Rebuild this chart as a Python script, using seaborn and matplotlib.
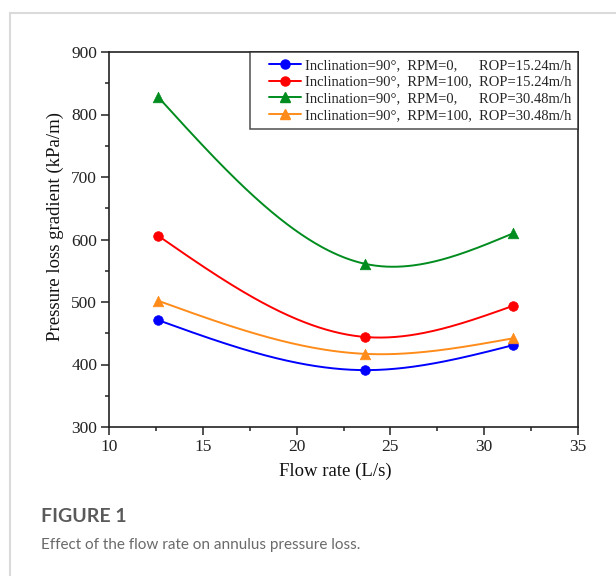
import numpy as np
import pandas as pd
import matplotlib
matplotlib.use("Agg")
import matplotlib.pyplot as plt
from matplotlib.lines import Line2D
from matplotlib.patches import Rectangle
from matplotlib.ticker import MultipleLocator
from matplotlib.legend_handler import HandlerLine2D
import seaborn as sns

# Measured data
flow_rate = [12.62, 23.66, 31.55]  # L/s
blue_vals = [471, 391, 431]
red_vals = [606, 444, 494]
green_vals = [828, 561, 610]
orange_vals = [502, 417, 442]

series_labels = [
    "Inclination=90°,  RPM=0,      ROP=15.24m/h",
    "Inclination=90°,  RPM=100,  ROP=15.24m/h",
    "Inclination=90°,  RPM=0,      ROP=30.48m/h",
    "Inclination=90°,  RPM=100,  ROP=30.48m/h",
]
series_values = [blue_vals, red_vals, green_vals, orange_vals]
series_colors = ["#0000ff", "#ff0000", "#008c1e", "#ff8c1a"]
series_markers = ["o", "o", "^", "^"]

x_ticks = [10, 15, 20, 25, 30, 35]
y_ticks = [300, 400, 500, 600, 700, 800, 900]


def natural_spline(x, y, n=200):
    """Natural cubic spline through the given points."""
    x = np.asarray(x, float)
    y = np.asarray(y, float)
    k = len(x)
    h = np.diff(x)
    A = np.zeros((k, k))
    b = np.zeros(k)
    A[0, 0] = A[-1, -1] = 1.0
    for i in range(1, k - 1):
        A[i, i - 1] = h[i - 1]
        A[i, i] = 2 * (h[i - 1] + h[i])
        A[i, i + 1] = h[i]
        b[i] = 6 * ((y[i + 1] - y[i]) / h[i] - (y[i] - y[i - 1]) / h[i - 1])
    M = np.linalg.solve(A, b)
    xs = np.linspace(x[0], x[-1], n)
    idx = np.clip(np.searchsorted(x, xs) - 1, 0, k - 2)
    x0, x1 = x[idx], x[idx + 1]
    hh = x1 - x0
    ys = (M[idx] * (x1 - xs) ** 3 / (6 * hh)
          + M[idx + 1] * (xs - x0) ** 3 / (6 * hh)
          + (y[idx] / hh - M[idx] * hh / 6) * (x1 - xs)
          + (y[idx + 1] / hh - M[idx + 1] * hh / 6) * (xs - x0))
    return xs, ys


curve_frames = []
point_frames = []
for lab, vals in zip(series_labels, series_values):
    xs, ys = natural_spline(flow_rate, vals)
    curve_frames.append(pd.DataFrame({"flow": xs, "dp": ys, "series": lab}))
    point_frames.append(pd.DataFrame({"flow": flow_rate, "dp": vals, "series": lab}))
curves = pd.concat(curve_frames, ignore_index=True)
points = pd.concat(point_frames, ignore_index=True)

sns.set_theme(style="ticks")
plt.rcParams["font.family"] = ["Liberation Serif", "DejaVu Serif"]

fig = plt.figure(figsize=(6.16, 5.76), dpi=100)
fig.patch.set_facecolor("white")
ax = fig.add_axes([109 / 616, 1 - 427 / 576, 469 / 616, 375 / 576])

palette = dict(zip(series_labels, series_colors))
sns.lineplot(data=curves, x="flow", y="dp", hue="series", palette=palette,
             sort=False, estimator=None, linewidth=1.4, legend=False, ax=ax)
for lab, col, mk in zip(series_labels, series_colors, series_markers):
    sub = points[points["series"] == lab]
    sns.scatterplot(data=sub, x="flow", y="dp", color=col, marker=mk,
                    s=48 if mk == "o" else 58, edgecolor=col, linewidth=0.5,
                    legend=False, ax=ax, zorder=3)

ax.set_xlim(10, 35)
ax.set_ylim(300, 900)
ax.set_xticks(x_ticks)
ax.set_yticks(y_ticks)
ax.xaxis.set_minor_locator(MultipleLocator(2.5))
ax.yaxis.set_minor_locator(MultipleLocator(50))
ax.tick_params(which="both", direction="out", top=False, right=False,
               width=1.1, color="#222222", labelsize=12.5, labelcolor="#222222")
ax.tick_params(which="major", length=5.5, pad=3)
ax.tick_params(which="minor", length=3)
for sp in ax.spines.values():
    sp.set_linewidth(1.2)
    sp.set_color("#222222")
ax.set_xlabel("Flow rate (L/s)", fontsize=13.5, color="#111111")
ax.set_ylabel("Pressure loss gradient (kPa/m)", fontsize=13.5, color="#111111")
ax.xaxis.set_label_coords(0.483, -0.095)
ax.yaxis.set_label_coords(-0.097, 0.535)

legend_fs = 10.5
handles = [Line2D([0], [0], color=c, marker=m, markersize=6.5 if m == "o" else 7,
                  linewidth=1.4)
           for c, m in zip(series_colors, series_markers)]
leg = ax.legend(handles, series_labels, loc="upper right", borderaxespad=0,
                fontsize=legend_fs, frameon=True, fancybox=False, edgecolor="#222222",
                handlelength=3.1, handletextpad=0.25, labelspacing=0.25,
                borderpad=0.45,
                handler_map={Line2D: HandlerLine2D(xpad=0.9)})
leg.get_frame().set_linewidth(1.1)

# Outer page frame and caption
fig.add_artist(Rectangle((10 / 616, -0.05), 1.1, (576 - 13) / 576 + 0.05,
                         transform=fig.transFigure, facecolor="none",
                         edgecolor="#dadada", linewidth=1.5, clip_on=False))
fig.text(41 / 616, 1 - 516 / 576, "FIGURE 1", fontsize=14, fontweight="bold",
         color="#5a5a5a", family=["Lato", "DejaVu Sans"], va="center")
fig.text(41 / 616, 1 - 545 / 576, "Effect of the flow rate on annulus pressure loss.",
         fontsize=11, color="#6a6a6a", family=["Lato", "DejaVu Sans"], va="center")

fig.savefig("out.png", dpi=100)
